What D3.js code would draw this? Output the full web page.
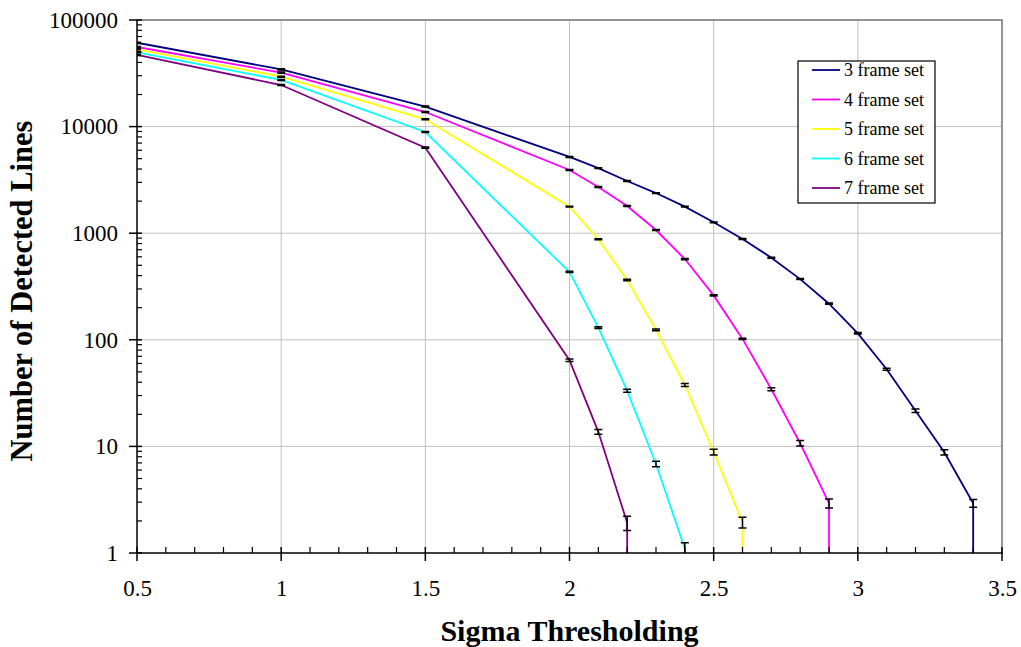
<!DOCTYPE html>
<html>
<head>
<meta charset="utf-8">
<script src="https://cdn.jsdelivr.net/npm/d3@7"></script>
<style>
  body { margin: 0; background: #fff; }
  svg { display: block; }
  svg text { font-family: "Liberation Serif", "Times New Roman", serif; }
</style>
</head>
<body>
<div id="chart"></div>
<script>
// ---------------- data ----------------
const xTicks = [0.5, 1, 1.5, 2, 2.5, 3, 3.5];
const yTicks = [1, 10, 100, 1000, 10000, 100000];

const x3 = [0.5, 1, 1.5, 2, 2.1, 2.2, 2.3, 2.4, 2.5, 2.6, 2.7, 2.8, 2.9, 3.0, 3.1, 3.2, 3.3, 3.4];
const y3 = [61200, 34400, 15400, 5190, 4080, 3090, 2380, 1775, 1265, 883, 589, 371, 218, 115, 53, 21.6, 8.8, 2.93];
const e3 = [600, 400, 170, 50, 40, 30, 22, 16, 12, 8, 6, 4, 3, 1.8, 1.15, 0.8, 0.5, 0.25];

const x4 = [0.5, 1, 1.5, 2, 2.1, 2.2, 2.3, 2.4, 2.5, 2.6, 2.7, 2.8, 2.9];
const y4 = [55800, 32060, 13700, 3920, 2710, 1800, 1071, 572, 261, 102, 34.4, 10.7, 2.93];
const e4 = [550, 380, 150, 40, 30, 20, 12, 7, 3.5, 1.6, 1.1, 0.63, 0.28];

const x5 = [0.5, 1, 1.5, 2, 2.1, 2.2, 2.3, 2.4, 2.5, 2.6];
const y5 = [53100, 29400, 11700, 1775, 877, 364, 124, 37.7, 8.86, 1.94];
const e5 = [520, 350, 130, 18, 10, 5, 2.2, 1.2, 0.54, 0.22];

const x6 = [0.5, 1, 1.5, 2, 2.1, 2.2, 2.3, 2.4];
const y6 = [49800, 27400, 8900, 433, 130, 33.3, 6.84, 1.1];
const e6 = [500, 330, 100, 6, 2.3, 1.1, 0.41, 0.15];

const x7 = [0.5, 1, 1.5, 2, 2.1, 2.2];
const y7 = [47000, 24550, 6340, 64.3, 13.7, 1.92];
const e7 = [480, 300, 80, 1.7, 0.68, 0.29];

const seriesNames = ["3 frame set", "4 frame set", "5 frame set", "6 frame set", "7 frame set"];
const seriesColors = ["#000080", "#ff00ff", "#ffff00", "#00ffff", "#800080"];
const seriesX = [x3, x4, x5, x6, x7];
const seriesY = [y3, y4, y5, y6, y7];
const seriesE = [e3, e4, e5, e6, e7];

// ---------------- chart ----------------
const width = 1021, height = 647;
const mLeft = 137, mRight = 1002, mTop = 20, mBottom = 553;
const serif = '"Liberation Serif", "Times New Roman", serif';

const svg = d3.select("#chart").append("svg")
  .attr("width", width)
  .attr("height", height);

const x = d3.scaleLinear().domain([0.5, 3.5]).range([mLeft, mRight]);
const y = d3.scaleLog().domain([1, 100000]).range([mBottom, mTop]);

svg.append("clipPath").attr("id", "clip")
  .append("rect")
  .attr("x", mLeft).attr("y", mTop)
  .attr("width", mRight - mLeft).attr("height", mBottom - mTop);

// grid
const grid = svg.append("g").attr("stroke", "#c0c0c0").attr("stroke-width", 1);
grid.selectAll(".gx")
  .data(xTicks.slice(1, -1))
  .join("line")
  .attr("x1", d => x(d)).attr("x2", d => x(d))
  .attr("y1", mTop).attr("y2", mBottom);
grid.selectAll(".gy")
  .data(yTicks.slice(1, -1))
  .join("line")
  .attr("x1", mLeft).attr("x2", mRight)
  .attr("y1", d => y(d)).attr("y2", d => y(d));

// frame top / right
svg.append("path")
  .attr("d", `M${mLeft},${mTop}H${mRight}V${mBottom}`)
  .attr("fill", "none")
  .attr("stroke", "#707070")
  .attr("stroke-width", 1.5);

// series
const line = d3.line();
const plot = svg.append("g").attr("clip-path", "url(#clip)");

seriesNames.forEach((name, i) => {
  const xs = seriesX[i], ys = seriesY[i];
  const pts = xs.map((d, j) => [x(d), y(ys[j])]);
  // count falls to zero after the last point: line drops to the axis
  const last = xs[xs.length - 1];
  pts.push([x(last), mBottom + 2]);

  plot.append("path")
    .attr("d", line(pts))
    .attr("fill", "none")
    .attr("stroke", seriesColors[i])
    .attr("stroke-width", 1.8);
});

// error bars
seriesNames.forEach((name, i) => {
  const xs = seriesX[i], ys = seriesY[i], es = seriesE[i];
  const g = plot.append("g").attr("stroke", "#000").attr("stroke-width", 1.5).attr("fill", "none");
  xs.forEach((d, j) => {
    const cx = x(d);
    const y0 = y(ys[j] + es[j]);
    const y1 = y(Math.max(ys[j] - es[j], 0.5));
    g.append("path")
      .attr("d", `M${cx - 4},${y0}H${cx + 4}M${cx},${y0}V${y1}M${cx - 4},${y1}H${cx + 4}`);
  });
});

// axes lines
const axes = svg.append("g").attr("stroke", "#000").attr("stroke-width", 1.5);
axes.append("line").attr("x1", mLeft).attr("x2", mLeft).attr("y1", mTop).attr("y2", mBottom + 1);
axes.append("line").attr("x1", mLeft - 1).attr("x2", mRight + 1).attr("y1", mBottom).attr("y2", mBottom);

// y ticks
const yMinor = [];
yTicks.slice(0, -1).forEach(d => {
  for (let k = 2; k <= 9; k++) yMinor.push(d * k);
});
axes.selectAll(".ymaj")
  .data(yTicks)
  .join("line")
  .attr("x1", mLeft - 8).attr("x2", mLeft + 5)
  .attr("y1", d => y(d)).attr("y2", d => y(d));
axes.selectAll(".ymin")
  .data(yMinor)
  .join("line")
  .attr("x1", mLeft).attr("x2", mLeft + 5)
  .attr("y1", d => y(d)).attr("y2", d => y(d))
  .attr("stroke-width", 1.2);

// x ticks
const xMinor = d3.range(6, 35).map(d => d / 10).filter(d => Math.abs(d * 2 - Math.round(d * 2)) > 1e-6);
axes.selectAll(".xmaj")
  .data(xTicks)
  .join("line")
  .attr("x1", d => x(d)).attr("x2", d => x(d))
  .attr("y1", mBottom - 6).attr("y2", mBottom + 8);
axes.selectAll(".xmin")
  .data(xMinor)
  .join("line")
  .attr("x1", d => x(d)).attr("x2", d => x(d))
  .attr("y1", mBottom - 6).attr("y2", mBottom)
  .attr("stroke-width", 1.2);

// tick labels via axes
const yAxis = d3.axisLeft(y).tickValues(yTicks).tickFormat(d3.format("d")).tickSize(0).tickPadding(19);
const gy = svg.append("g").attr("transform", `translate(${mLeft},0)`).call(yAxis);
gy.attr("font-family", null).attr("font-size", null);
gy.select(".domain").remove();
gy.selectAll("text")
  .style("font-family", serif)
  .style("font-size", "23px")
  .attr("fill", "#000");

const xAxis = d3.axisBottom(x).tickValues(xTicks).tickFormat(d => String(d)).tickSize(0).tickPadding(27);
const gx = svg.append("g").attr("transform", `translate(0,${mBottom})`).call(xAxis);
gx.attr("font-family", null).attr("font-size", null);
gx.select(".domain").remove();
gx.selectAll("text")
  .style("font-family", serif)
  .style("font-size", "23px")
  .attr("fill", "#000");

// axis titles
svg.append("text")
  .attr("x", (mLeft + mRight) / 2)
  .attr("y", 641)
  .attr("text-anchor", "middle")
  .attr("font-size", 30)
  .attr("font-weight", "bold")
  .text("Sigma Thresholding");

svg.append("text")
  .attr("transform", "translate(32,291) rotate(-90)")
  .attr("text-anchor", "middle")
  .attr("font-size", 30.5)
  .attr("font-weight", "bold")
  .text("Number of Detected Lines");

// legend
const legend = svg.append("g");
legend.append("rect")
  .attr("x", 798).attr("y", 61)
  .attr("width", 137).attr("height", 142)
  .attr("fill", "#fff")
  .attr("stroke", "#000")
  .attr("stroke-width", 1.2);

const ly = d3.scalePoint().domain(seriesNames).range([70, 188]);
legend.selectAll(".li")
  .data(seriesNames)
  .join("line")
  .attr("x1", 812).attr("x2", 840)
  .attr("y1", d => ly(d)).attr("y2", d => ly(d))
  .attr("stroke", (d, i) => seriesColors[i])
  .attr("stroke-width", 1.8);
legend.selectAll(".lt")
  .data(seriesNames)
  .join("text")
  .attr("x", 844)
  .attr("y", d => ly(d) + 6)
  .attr("font-size", 18)
  .text(d => d);
</script>
</body>
</html>
